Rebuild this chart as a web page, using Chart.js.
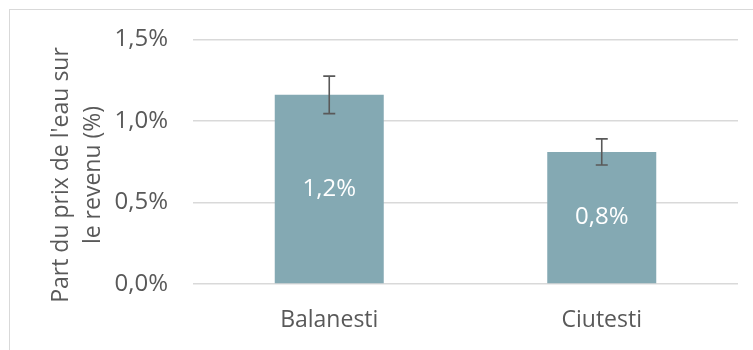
<!DOCTYPE html>
<html>
<head>
<meta charset="utf-8">
<script src="https://cdn.jsdelivr.net/npm/chart.js@4"></script>
<style>
    body { margin: 0; background: #ffffff; overflow: hidden; }
    .frame { position: absolute; left: 9px; top: 9px; width: 800px; height: 400px; border: 1px solid #d9d9d9; }
    .wrap { position: absolute; left: 0; top: 0; width: 753px; height: 350px; }
</style>
</head>
<body>
<div class="frame"></div>
<div class="wrap"><canvas id="chart"></canvas></div>
<script>
// Data (percent)
const villages = ['Balanesti', 'Ciutesti'];
const shareValues = [1.16, 0.81];
const shareErrors = [0.115, 0.08];
const yTicks = [0, 0.5, 1.0, 1.5];
const yTitle = ["Part du prix de l'eau sur", 'le revenu (%)'];

const textGray = '#595959';
const fontFamily = '"Open Sans", sans-serif';

const fmtPct = v => v.toFixed(1).replace('.', ',') + '%';

// Error bars drawn through the y scale
const errorBarPlugin = {
    id: 'errorBars',
    afterDatasetsDraw(chart) {
        const ctx = chart.ctx;
        const meta = chart.getDatasetMeta(0);
        const y = chart.scales.y;
        ctx.save();
        ctx.strokeStyle = '#595959';
        ctx.lineWidth = 1.6;
        meta.data.forEach((bar, i) => {
            const v = shareValues[i];
            const top = y.getPixelForValue(v + shareErrors[i]);
            const bot = y.getPixelForValue(v - shareErrors[i]);
            const x = bar.x;
            ctx.beginPath();
            ctx.moveTo(x, top); ctx.lineTo(x, bot);
            ctx.moveTo(x - 6, top); ctx.lineTo(x + 6, top);
            ctx.moveTo(x - 6, bot); ctx.lineTo(x + 6, bot);
            ctx.stroke();
        });
        ctx.restore();
    }
};

// Value labels in the middle of each bar
const barLabelPlugin = {
    id: 'barLabels',
    afterDatasetsDraw(chart) {
        const ctx = chart.ctx;
        const meta = chart.getDatasetMeta(0);
        ctx.save();
        ctx.fillStyle = '#ffffff';
        ctx.font = '24px ' + fontFamily;
        ctx.textAlign = 'center';
        ctx.textBaseline = 'middle';
        meta.data.forEach((bar, i) => {
            ctx.fillText(fmtPct(shareValues[i]), bar.x, (bar.y + bar.base) / 2);
        });
        ctx.restore();
    }
};

// Rotated y axis title, centred on the frame like the original
const axisTitlePlugin = {
    id: 'axisTitle',
    afterDraw(chart) {
        const ctx = chart.ctx;
        ctx.save();
        ctx.fillStyle = textGray;
        ctx.font = '23px ' + fontFamily;
        ctx.textAlign = 'center';
        ctx.textBaseline = 'alphabetic';
        yTitle.forEach((line, i) => {
            ctx.save();
            ctx.translate(68 + i * 32, 175);
            ctx.rotate(-Math.PI / 2);
            ctx.fillText(line, 0, 0);
            ctx.restore();
        });
        ctx.restore();
    }
};

new Chart(document.getElementById('chart'), {
    type: 'bar',
    data: {
        labels: villages,
        datasets: [{
            data: shareValues,
            backgroundColor: '#84A9B3',
            borderWidth: 0,
            categoryPercentage: 1.0,
            barPercentage: 0.4
        }]
    },
    options: {
        responsive: true,
        maintainAspectRatio: false,
        animation: false,
        layout: { padding: { top: 38, right: 15, left: 0, bottom: 0 } },
        plugins: {
            legend: { display: false },
            tooltip: { enabled: false }
        },
        scales: {
            x: {
                grid: { display: false, drawTicks: false },
                border: { display: false },
                ticks: {
                    color: textGray,
                    padding: 23,
                    font: { family: fontFamily, size: 23 }
                },
                afterFit(scale) { scale.height = 66; }
            },
            y: {
                min: 0,
                max: 1.5,
                afterBuildTicks(scale) { scale.ticks = yTicks.map(v => ({ value: v })); },
                grid: { color: '#d9d9d9', lineWidth: 1.4, drawTicks: false },
                border: { display: false },
                ticks: {
                    color: textGray,
                    padding: 25,
                    font: { family: fontFamily, size: 24 },
                    callback: v => fmtPct(v)
                },
                afterFit(scale) { scale.width = 193; }
            }
        }
    },
    plugins: [errorBarPlugin, barLabelPlugin, axisTitlePlugin]
});
</script>
</body>
</html>
